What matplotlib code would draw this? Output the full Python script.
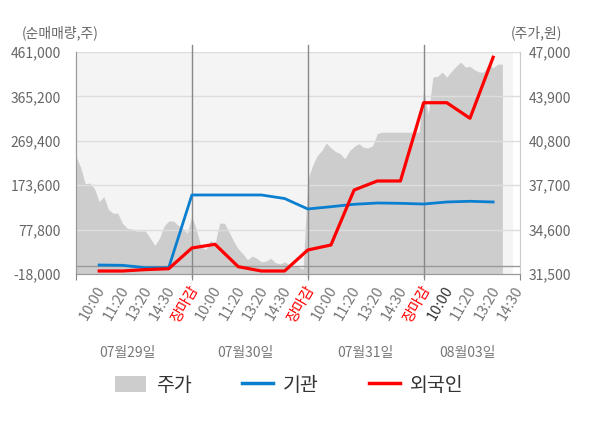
import numpy as np
import matplotlib
matplotlib.use("Agg")
import matplotlib.pyplot as plt
from matplotlib.lines import Line2D
from matplotlib.patches import Patch
from matplotlib.transforms import ScaledTranslation

plt.rcParams['font.family'] = ['Noto Sans CJK KR', 'DejaVu Sans']

#%% data
# tick labels (one per slot, 5 slots per trading day)
tick_labels = ['10:00', '11:20', '13:20', '14:30', '장마감',
               '10:00', '11:20', '13:20', '14:30', '장마감',
               '10:00', '11:20', '13:20', '14:30', '장마감',
               '10:00', '11:20', '13:20', '14:30']
day_labels = ['07월29일', '07월30일', '07월31일', '08월03일']

# net buying (shares), one value per slot 1..18
foreign = [-11500, -11500, -8500, -6600, 38100, 46100, -2200, -11500, -11500,
           33800, 44600, 163200, 182700, 182700, 351600, 351600, 318000, 449600]
inst = [1400, 800, -4400, -4400, 152500, 152500, 152500, 152500, 144900,
        122300, 127200, 132400, 135200, 134500, 133000, 137400, 138900, 137400]

# intraday price (won), sampled every 0.2 slot
price_d1 = [39700, 38950, 37800, 37850, 37450, 36550, 36900, 36000, 35750, 35750,
            35050, 34700, 34650, 34500, 34500, 34500, 34000, 33500, 34000, 34850,
            35200, 35200, 34900, 34700, 34350]
price_d2 = [35550, 34550, 33400, 33200, 33850, 33650, 35050, 35050, 34450, 33800,
            33250, 32900, 32500, 32750, 32600, 32350, 32400, 32600, 32300, 32200,
            32350, 32150, 32050, 32000, 31850]
price_d3 = [38050, 39050, 39750, 40100, 40650, 40300, 40050, 39900, 39550, 40100,
            40400, 40600, 40350, 40300, 40450, 41300, 41400, 41400, 41400, 41400,
            41400, 41400, 41400, 41400, 41400]
price_d4 = [44400, 42650, 45250, 45300, 45600, 45250, 45650, 46000, 46300, 45950,
            46000, 45750, 45600, 45600, 46150, 45900, 46150, 46150]

left_ticks = [-18000, 77800, 173600, 269400, 365200, 461000]
right_ticks = [31500, 34600, 37700, 40800, 43900, 47000]

#%% positions
price = price_d1 + price_d2 + price_d3 + price_d4
px = np.arange(len(price)) * 0.2
sx = np.arange(1, len(foreign) + 1)
xmax = 19.16

#%% plot
fig = plt.figure(figsize=[6, 4.28], dpi=100)
ax = fig.add_axes([0.1267, 0.3598, 0.74, 0.5187])
ax2 = ax.twinx()
ax2.set_zorder(ax.get_zorder() - 1)
ax.patch.set_visible(False)

# price area (behind)
ax2.axvspan(0, 18.85, color='#f4f4f4', lw=0, zorder=0)
ax2.fill_between(px, right_ticks[0], price, color='#cdcdcd', lw=0, zorder=1)
ax2.set_ylim(right_ticks[0], right_ticks[-1])
ax2.set_yticks(right_ticks)
ax2.set_yticklabels(['{:,}'.format(v) for v in right_ticks])

# grid + lines on top axes
ax.set_xlim(0, xmax)
ax.set_ylim(left_ticks[0], left_ticks[-1])
ax.set_yticks(left_ticks)
ax.set_yticklabels(['{:,}'.format(v) for v in left_ticks])
for v in left_ticks[1:]:
    ax.axhline(v, color='#dddddd', lw=1.0, zorder=1)
ax.axhline(0, color='#999999', lw=1.0, zorder=1)
for d in [5, 10, 15]:
    ax.axvline(d, ymin=-0.014, ymax=1.032, color='#888888', lw=1.0, clip_on=False, zorder=1)

ax.plot(sx, inst, color='#0a7fd0', lw=2.0, zorder=3)
ax.plot(sx, foreign, color='#ff0000', lw=2.3, zorder=4)

# x ticks: day boundaries marked, slot labels without marks
ax.xaxis.remove_overlapping_locs = False
ax.set_xticks([0, 5, 10, 15, xmax])
ax.set_xticklabels([])
ax.tick_params(axis='x', which='major', length=4, color='#888888')
ax.set_xticks(np.arange(1, len(tick_labels) + 1), minor=True)
ax.set_xticklabels(tick_labels, minor=True, rotation=60, ha='right', va='center',
                   rotation_mode='anchor', fontsize=10.5)
ax.tick_params(axis='x', which='minor', length=0, pad=9.5)

ax.tick_params(axis='y', length=0, pad=11, labelsize=10, labelcolor='#666666')
ax2.tick_params(axis='y', length=0, pad=6, labelsize=10, labelcolor='#666666')

shift = ScaledTranslation(3 / 100, 0, fig.dpi_scale_trans)
for i, lab in enumerate(ax.get_xticklabels(minor=True)):
    lab.set_transform(lab.get_transform() + shift)
    if tick_labels[i] == '장마감':
        lab.set_color('#ff0000')
    elif i == 15:
        lab.set_color('#333333')
    else:
        lab.set_color('#777777')

for a in [ax, ax2]:
    a.spines['top'].set_visible(False)
    a.spines['left'].set_color('#999999')
    a.spines['bottom'].set_color('#999999')
    a.spines['right'].set_color('#cccccc')

# day labels
day_x = [2.2, 7.3, 12.5, 16.9]
for x, lab in zip(day_x, day_labels):
    ax.text(x, -0.356, lab, transform=ax.get_xaxis_transform(), ha='center', va='center',
            fontsize=10, color='#777777')

fig.text(22 / 600, 1 - 33 / 428, '(순매매량,주)', ha='left', va='center', fontsize=10, color='#666666')
fig.text(562 / 600, 1 - 33 / 428, '(주가,원)', ha='right', va='center', fontsize=10, color='#666666')

handles = [Patch(facecolor='#cdcdcd', edgecolor='none'),
           Line2D([], [], color='#0a7fd0', lw=2.5),
           Line2D([], [], color='#ff0000', lw=2.5)]
fig.legend(handles, ['주가', '기관', '외국인'], loc='center', bbox_to_anchor=(0.482, 0.1),
           ncol=3, frameon=False, fontsize=14, handlelength=1.6, handleheight=0.9,
           columnspacing=2.6, handletextpad=0.5, labelcolor='#333333')

fig.savefig('out.png', dpi=100)
